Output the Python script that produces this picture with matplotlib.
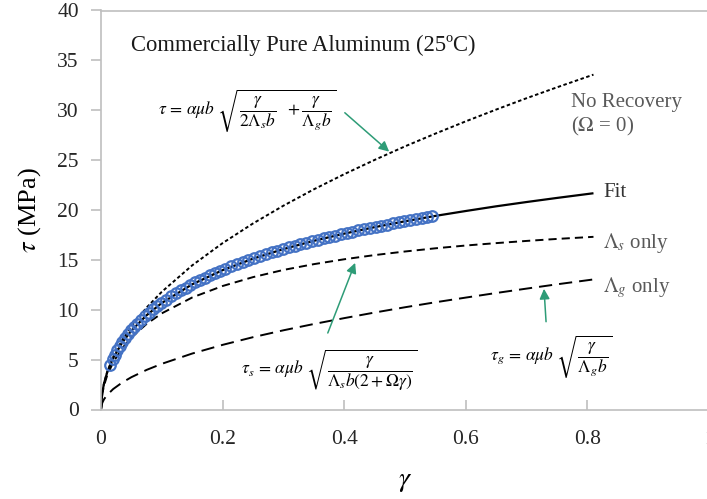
import matplotlib
matplotlib.use("Agg")
import matplotlib.pyplot as plt
from matplotlib.ticker import FixedLocator

plt.rcParams['font.family'] = ['Liberation Serif', 'DejaVu Serif']
plt.rcParams['mathtext.fontset'] = 'stix'

# Model curves (shear strain gamma vs. shear stress tau, MPa)
gamma_curve = [0, 0.002, 0.005, 0.01, 0.02, 0.035, 0.05, 0.075, 0.1, 0.15, 0.2,
               0.25, 0.3, 0.35, 0.4, 0.45, 0.5, 0.55, 0.6, 0.65, 0.7, 0.75, 0.81]
tau_no_recovery = [0, 1.67, 2.64, 3.73, 5.28, 6.98, 8.34, 10.22, 11.80, 14.45, 16.68,
                   18.65, 20.43, 22.07, 23.59, 25.02, 26.38, 27.66, 28.89, 30.07, 31.21,
                   32.30, 33.57]
tau_fit = [0, 1.66, 2.62, 3.69, 5.16, 6.72, 7.91, 9.45, 10.68, 12.55, 13.97,
           15.12, 16.08, 16.91, 17.63, 18.28, 18.87, 19.41, 19.90, 20.37, 20.80,
           21.21, 21.68]
tau_lambda_s = [0, 1.53, 2.41, 3.39, 4.73, 6.15, 7.21, 8.58, 9.64, 11.23, 12.38,
                13.27, 13.99, 14.57, 15.06, 15.48, 15.84, 16.16, 16.44, 16.68, 16.90,
                17.10, 17.31]
tau_lambda_g = [0, 0.65, 1.03, 1.45, 2.05, 2.71, 3.24, 3.97, 4.58, 5.61, 6.48,
                7.25, 7.94, 8.57, 9.16, 9.72, 10.25, 10.75, 11.22, 11.68, 12.12,
                12.55, 13.04]

# Measured points
gamma_data = [0.015, 0.019, 0.023, 0.027, 0.031, 0.035, 0.040, 0.045, 0.050, 0.055,
              0.060, 0.0665, 0.073, 0.0795, 0.086, 0.0925, 0.099, 0.107, 0.115, 0.123,
              0.131, 0.139, 0.147, 0.155, 0.163, 0.171, 0.179, 0.187, 0.195, 0.2045,
              0.214, 0.2235, 0.233, 0.2425, 0.252, 0.2615, 0.271, 0.2805, 0.290, 0.2995,
              0.309, 0.3185, 0.328, 0.3375, 0.347, 0.3565, 0.366, 0.3755, 0.385, 0.3945,
              0.404, 0.4135, 0.423, 0.4325, 0.442, 0.4515, 0.461, 0.4705, 0.480, 0.4895,
              0.499, 0.5085, 0.518, 0.5275, 0.537, 0.545]
tau_data = [4.42, 5.03, 5.51, 5.98, 6.38, 6.74, 7.17, 7.55, 7.93, 8.27,
            8.60, 8.99, 9.37, 9.71, 10.05, 10.36, 10.66, 11.00, 11.33, 11.64,
            11.93, 12.21, 12.48, 12.74, 12.98, 13.22, 13.45, 13.66, 13.87, 14.11,
            14.34, 14.56, 14.78, 14.98, 15.18, 15.37, 15.56, 15.74, 15.92, 16.09,
            16.25, 16.42, 16.57, 16.72, 16.87, 17.02, 17.16, 17.30, 17.44, 17.57,
            17.70, 17.83, 17.95, 18.07, 18.19, 18.31, 18.42, 18.54, 18.65, 18.76,
            18.86, 18.97, 19.07, 19.17, 19.27, 19.35]

x_ticks = [0, 0.2, 0.4, 0.6, 0.8, 1.0]
x_tick_labels = ['0', '0.2', '0.4', '0.6', '0.8', '1']
y_ticks = [0, 5, 10, 15, 20, 25, 30, 35, 40]

fig = plt.figure(figsize=(7.07, 4.99), dpi=100)
ax = fig.add_axes([101 / 707, 1 - 409.5 / 499, 608 / 707, 399 / 499])

lw = 1.4
ax.plot(gamma_curve, tau_no_recovery, color='black', lw=lw, dashes=(1.8, 1.3))
ax.plot(gamma_curve, tau_lambda_s, color='black', lw=lw, dashes=(4.2, 2.6))
ax.plot(gamma_curve, tau_lambda_g, color='black', lw=lw, dashes=(6.8, 3.6))
ax.plot(gamma_curve, tau_fit, color='black', lw=1.6, solid_capstyle='butt')
ax.plot(gamma_data, tau_data, linestyle='none', marker='o', markersize=7.6,
        markerfacecolor='none', markeredgecolor='#4472C4', markeredgewidth=1.6)

ax.set_xlim(0, 1.0)
ax.set_ylim(0, 40)
ax.xaxis.set_major_locator(FixedLocator(x_ticks))
ax.set_xticklabels(x_tick_labels)
ax.yaxis.set_major_locator(FixedLocator(y_ticks))

spine_color = '#bfbfbf'
for side in ['left', 'bottom', 'top', 'right']:
    ax.spines[side].set_color(spine_color)
    ax.spines[side].set_linewidth(1.2)
ax.tick_params(axis='x', direction='in', length=7, width=1.2, color=spine_color,
               labelsize=15.5, pad=15, labelcolor='#262626')
ax.tick_params(axis='y', direction='out', length=7, width=1.2, color=spine_color,
               labelsize=15.5, pad=9, labelcolor='#262626')

ax.set_xlabel(r'$\gamma$', fontsize=20, labelpad=14)
ax.set_ylabel(r'$\tau$ (MPa)', fontsize=19, labelpad=10)

ax.text(0.049, 35.97, 'Commercially Pure Aluminum (25ºC)', fontsize=16.3,
        ha='left', va='baseline', color='#1a1a1a')

gray = '#595959'
ax.text(0.773, 30.3, 'No Recovery', fontsize=15, color=gray, ha='left', va='baseline')
ax.text(0.773, 27.9, r'($\Omega$ = 0)', fontsize=15, color=gray, ha='left', va='baseline')
ax.text(0.826, 21.3, 'Fit', fontsize=15, color='#333333', ha='left', va='baseline')
ax.text(0.826, 16.2, r'$\Lambda_s$ only', fontsize=15, color=gray, ha='left', va='baseline')
ax.text(0.826, 11.7, r'$\Lambda_g$ only', fontsize=15, color=gray, ha='left', va='baseline')

ax.text(0.094, 30.0,
        r'$\tau\,=\,\alpha\mu b\ \sqrt{\dfrac{\gamma}{2\Lambda_s b}\ \ +\dfrac{\gamma}{\Lambda_g b}}$',
        fontsize=12.5, ha='left', va='center')
ax.text(0.231, 3.96,
        r'$\tau_s\,=\,\alpha\mu b\ \sqrt{\dfrac{\gamma}{\Lambda_s b(2+\Omega\gamma)}}$',
        fontsize=12.5, ha='left', va='center')
ax.text(0.640, 5.26,
        r'$\tau_g\,=\,\alpha\mu b\ \sqrt{\dfrac{\gamma}{\Lambda_g b}}$',
        fontsize=12.5, ha='left', va='center')

arrow_color = '#2E9C77'
arrow_kw = dict(arrowstyle='-|>', color=arrow_color, lw=1.1, mutation_scale=15,
                shrinkA=0, shrinkB=0)
ax.annotate('', xy=(0.474, 25.85), xytext=(0.401, 29.75), arrowprops=arrow_kw)
ax.annotate('', xy=(0.418, 14.7), xytext=(0.373, 7.67), arrowprops=arrow_kw)
ax.annotate('', xy=(0.7286, 12.1), xytext=(0.732, 8.8), arrowprops=arrow_kw)

fig.savefig('out.png', dpi=100)
